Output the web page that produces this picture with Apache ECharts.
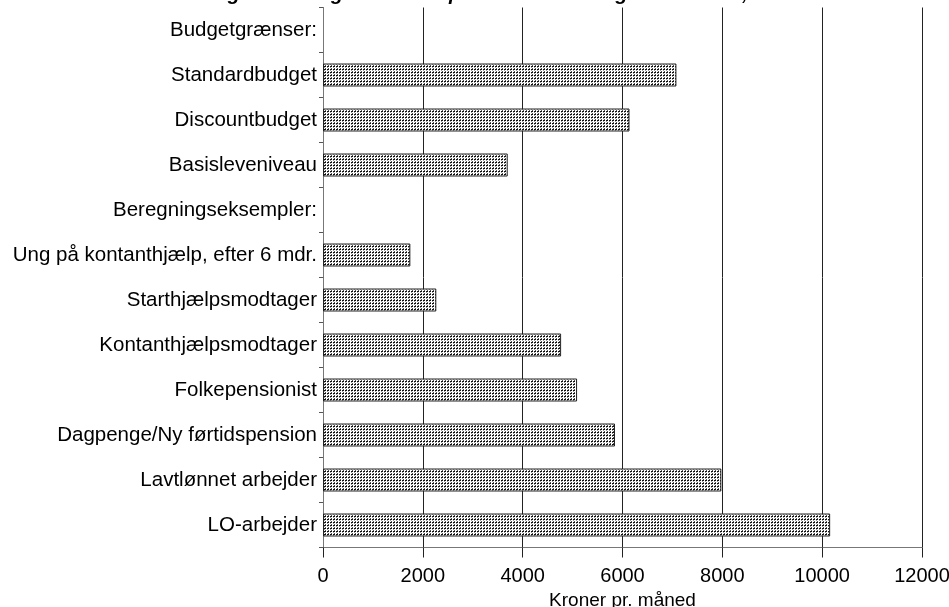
<!DOCTYPE html>
<html><head><meta charset="utf-8">
<script src="https://cdn.jsdelivr.net/npm/echarts@6/dist/echarts.min.js"></script>
<style>html,body{margin:0;padding:0;background:#fff}#c{width:949px;height:607px}</style>
</head><body><div id="c"></div>
<script>
var categories = ["Budgetgrænser:", "Standardbudget", "Discountbudget", "Basisleveniveau",
  "Beregningseksempler:", "Ung på kontanthjælp, efter 6 mdr.", "Starthjælpsmodtager",
  "Kontanthjælpsmodtager", "Folkepensionist", "Dagpenge/Ny førtidspension",
  "Lavtlønnet arbejder", "LO-arbejder"];
var values = [null, 7080, 6140, 3700, null, 1750, 2270, 4770, 5090, 5850, 7980, 10160];
var xTicks = [0, 2000, 4000, 6000, 8000, 10000, 12000];
var titleText = "Figur 1. Rådighedsbeløb pr. måned for enlige uden børn, 1998";
var xAxisName = "Kroner pr. måned";

var pc = document.createElement('canvas');
pc.width = 3; pc.height = 3;
var g = pc.getContext('2d');
g.fillStyle = '#ffffff'; g.fillRect(0, 0, 3, 3);
g.fillStyle = '#111111'; g.fillRect(0, 0, 2, 1);
g.fillStyle = '#555555'; g.fillRect(1, 2, 1, 1);
g.fillStyle = '#999999'; g.fillRect(0, 1, 1, 1);

var chart = echarts.init(document.getElementById('c'), null, {renderer: 'canvas'});
var font = 'Arial, "Liberation Sans", sans-serif';
chart.setOption({
  animation: false,
  backgroundColor: '#ffffff',
  title: {
    text: titleText, left: 205, top: -21,
    textStyle: {fontFamily: font, fontSize: 20, fontWeight: 'bold', fontStyle: 'italic', color: '#000'}
  },
  grid: {left: 323, right: 27, top: 7.5, bottom: 59.5, containLabel: false, outerBoundsMode: 'none'},
  xAxis: {
    type: 'value', min: xTicks[0], max: xTicks[xTicks.length - 1], interval: 2000,
    name: xAxisName, nameLocation: 'middle', nameGap: 42,
    nameTextStyle: {fontFamily: font, fontSize: 19, color: '#000'},
    axisLine: {show: true, lineStyle: {color: '#777', width: 1}},
    axisTick: {show: true, length: 10, lineStyle: {color: '#222'}},
    axisLabel: {fontFamily: font, fontSize: 20, color: '#000', margin: 19,
      formatter: function (v) { return String(v); }},
    splitLine: {show: true, lineStyle: {color: '#222', width: 1}}
  },
  yAxis: {
    type: 'category', data: categories, inverse: true,
    axisLine: {show: true, lineStyle: {color: '#777', width: 1}},
    axisTick: {show: true, length: 4, lineStyle: {color: '#555'}},
    axisLabel: {fontFamily: font, fontSize: 20.5, color: '#000', margin: 6}
  },
  series: [{
    type: 'bar', data: values, barWidth: 23,
    itemStyle: {color: {image: pc, repeat: 'repeat'}, borderColor: '#222', borderWidth: 1}
  }]
});
</script></body></html>
